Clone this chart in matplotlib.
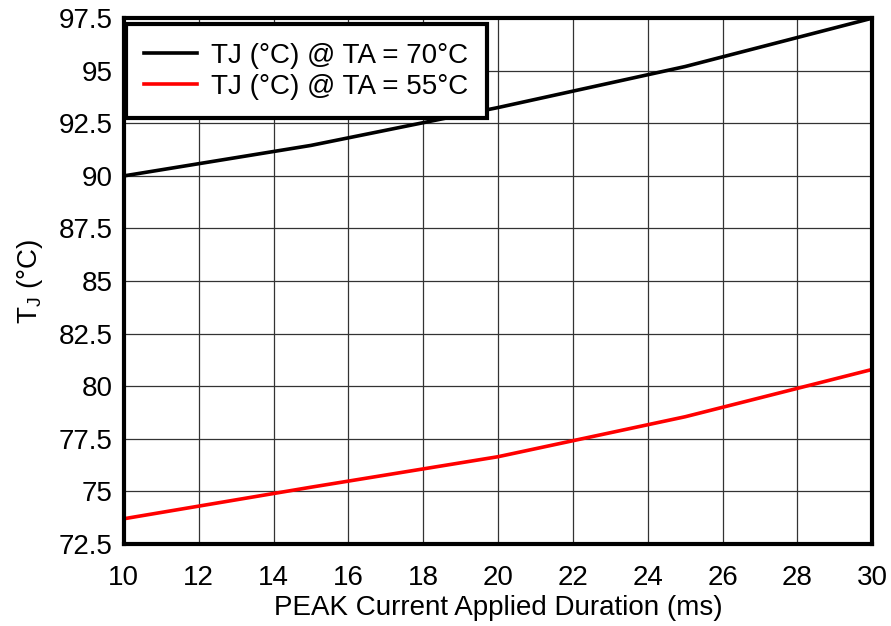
import matplotlib
matplotlib.use("Agg")
import matplotlib.pyplot as plt

plt.rcParams['font.family'] = ['Liberation Sans', 'DejaVu Sans']

# PEAK current applied duration (ms)
duration_ms = [10, 15, 20, 25, 30]
# junction temperature readings
tj_ta70 = [90.0, 91.45, 93.25, 95.2, 97.5]
tj_ta55 = [73.7, 75.2, 76.65, 78.55, 80.8]

x_ticks = [10, 12, 14, 16, 18, 20, 22, 24, 26, 28, 30]
y_ticks = [72.5, 75, 77.5, 80, 82.5, 85, 87.5, 90, 92.5, 95, 97.5]
y_tick_labels = ['72.5', '75', '77.5', '80', '82.5', '85', '87.5', '90', '92.5', '95', '97.5']

fig = plt.figure(figsize=(8.91, 6.26), dpi=100)
ax = fig.add_axes([0.139, 0.131, 0.840, 0.840])

ax.plot(duration_ms, tj_ta70, color='black', linewidth=2.6, label='TJ (°C) @ TA = 70°C')
ax.plot(duration_ms, tj_ta55, color='#ff0000', linewidth=2.6, label='TJ (°C) @ TA = 55°C')

ax.set_xlim(10, 30)
ax.set_ylim(72.5, 97.5)
ax.set_xticks(x_ticks)
ax.set_yticks(y_ticks)
ax.set_yticklabels(y_tick_labels)
ax.tick_params(length=0, labelsize=20)
ax.tick_params(axis='x', pad=15)
ax.tick_params(axis='y', pad=8)
ax.grid(True, color='#333333', linewidth=0.9)
ax.set_axisbelow(True)

for s in ax.spines.values():
    s.set_linewidth(3)

ax.set_xlabel('PEAK Current Applied Duration (ms)', fontsize=20, labelpad=3)
ax.set_ylabel('T$_\\mathregular{J}$ (°C)', fontsize=20, labelpad=10)

leg = ax.legend(loc='upper left', bbox_to_anchor=(0.003, 0.988), fontsize=20,
                fancybox=False, framealpha=1, edgecolor='black',
                borderaxespad=0, handlelength=1.9, handletextpad=0.5,
                borderpad=0.66, labelspacing=0.18)
leg.get_frame().set_linewidth(3)

fig.savefig('out.png', dpi=100)
